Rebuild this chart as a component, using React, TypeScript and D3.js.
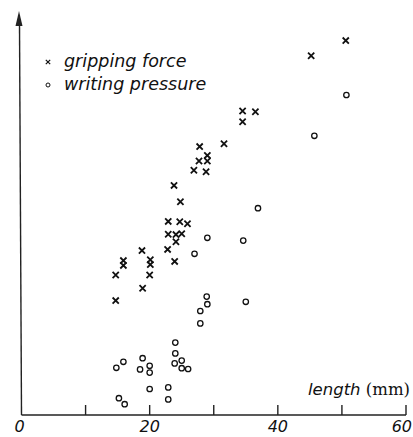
import React from 'react';
import * as d3 from 'd3';

// lengths (mm) and relative values
const gripLength = [
  50.6, 45.2, 34.5, 36.5, 34.5, 31.6, 27.8, 29.0, 27.7, 29.0, 26.9, 28.8, 23.8, 24.8, 22.9, 24.7,
  25.9, 22.9, 24.1, 25.0, 24.1, 18.8, 22.8, 23.9, 15.9, 15.9, 20.1, 20.1, 14.7, 20.0, 18.9, 14.7,
];
const gripForce = [
  93.6, 89.8, 76.0, 75.8, 73.3, 67.8, 67.1, 64.9, 63.5, 63.5, 61.2, 60.8, 57.4, 53.3, 48.4, 48.3,
  47.8, 45.2, 45.1, 45.3, 43.3, 41.1, 41.4, 38.4, 38.6, 37.4, 38.8, 37.6, 35.0, 35.0, 31.7, 28.6,
];
const writeLength = [
  50.7, 45.7, 36.9, 29.0, 34.6, 27.0, 28.9, 29.0, 35.0, 27.9, 27.9, 24.0, 24.0, 23.9, 25.0, 25.0,
  26.0, 18.9, 20.0, 20.0, 18.5, 15.9, 14.8, 20.0, 22.9, 22.9, 15.2, 16.1,
];
const writePressure = [
  80.0, 69.8, 51.7, 44.3, 43.6, 40.3, 29.6, 27.7, 28.3, 26.0, 22.9, 18.1, 15.4, 12.9, 13.6, 11.7,
  11.5, 14.2, 12.3, 10.6, 11.4, 13.3, 11.8, 6.5, 6.9, 3.9, 4.2, 2.7,
];
const tickValues = [10, 20, 30, 40, 50, 60];
const tickLabels = [0, 20, 40, 60];
const legendItems = ['gripping force', 'writing pressure'];

const W = 413;
const H = 437;
const font = "'DejaVu Sans', sans-serif";

const App = () => {
  const x = d3.scaleLinear().domain([0, 60]).range([21.5, 406]);
  const y = d3.scaleLinear().domain([0, 100]).range([415, 15]);

  const cross = (cx: number, cy: number, s: number) =>
    `M${cx - s},${cy - s}L${cx + s},${cy + s}M${cx - s},${cy + s}L${cx + s},${cy - s}`;

  const x0 = x(0);
  const yBase = y(0);

  return (
    <svg
      width={W}
      height={H}
      style={{ position: 'absolute', left: 0, top: 0, background: '#fff' }}
      fontFamily={font}
    >
      {/* axes */}
      <line x1={x0} y1={yBase} x2={x(60)} y2={yBase} stroke="#222" strokeWidth={1.4} />
      <line x1={x0} y1={yBase} x2={x0 - 2} y2={24} stroke="#222" strokeWidth={1.4} />
      <path d={`M${x0 - 2.5},11 L${x0 - 6},26 L${x0 + 1},26 Z`} fill="#222" />
      {tickValues.map(t => (
        <line key={t} x1={x(t)} x2={x(t)} y1={yBase} y2={yBase - 10} stroke="#222" strokeWidth={1.4} />
      ))}
      {tickLabels.map(t => (
        <text
          key={t}
          x={t === 60 ? 412 : x(t) - (t === 0 ? 2 : 0)}
          y={432}
          textAnchor={t === 60 ? 'end' : 'middle'}
          fontSize={16}
          fontStyle="italic"
          fill="#111"
        >
          {t}
        </text>
      ))}
      <text x={410} y={395} textAnchor="end" fontSize={16.5} fill="#111">
        <tspan fontStyle="italic">length</tspan>
        <tspan fontFamily="'DejaVu Serif', serif"> (mm)</tspan>
      </text>

      {/* legend */}
      <path d={cross(48, 62, 2.2)} stroke="#111" strokeWidth={1.2} />
      <circle cx={48} cy={85} r={2} fill="none" stroke="#111" strokeWidth={1} />
      {legendItems.map((d, i) => (
        <text key={d} x={64} y={67 + i * 23} fontSize={17.5} fontStyle="italic" fill="#111">
          {d}
        </text>
      ))}

      {/* points */}
      {gripLength.map((d, i) => (
        <path key={'g' + i} d={cross(x(d), y(gripForce[i]), 3.1)} stroke="#111" strokeWidth={1.8} />
      ))}
      {writeLength.map((d, i) => (
        <circle
          key={'w' + i}
          cx={x(d)}
          cy={y(writePressure[i])}
          r={2.7}
          fill="none"
          stroke="#111"
          strokeWidth={1.3}
        />
      ))}
    </svg>
  );
};

export default App;
